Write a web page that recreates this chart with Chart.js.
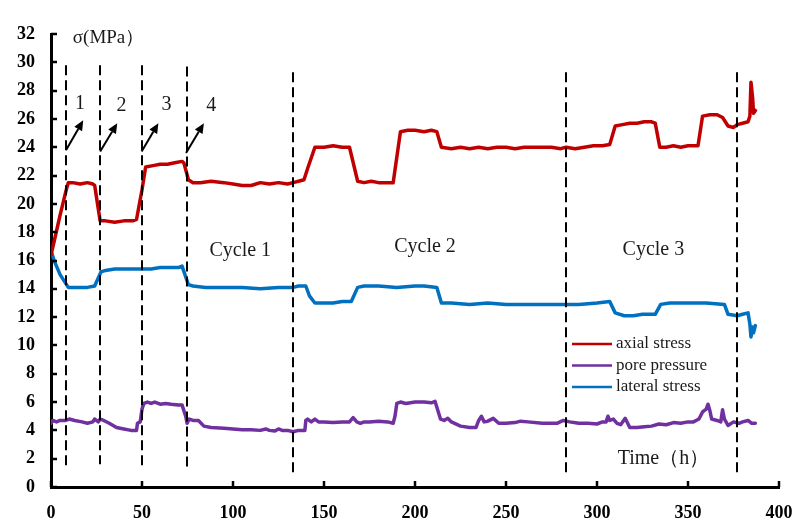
<!DOCTYPE html>
<html>
<head>
<meta charset="UTF-8">
<title>Stress vs time</title>
<script src="https://cdn.jsdelivr.net/npm/chart.js"></script>
<style>
  html, body { margin: 0; padding: 0; background: #fff; }
</style>
</head>
<body>
<canvas id="myChart" width="795" height="530"></canvas>
<script>
// axial stress (MPa) vs time (h)
var axialT = [0, 2, 5, 8, 9.5, 12, 16, 20, 23, 24, 27, 30, 35, 40, 45, 47, 50, 52, 56, 60, 64, 68, 72, 73, 75.5, 78, 82, 88, 95, 100, 105, 110, 115, 120, 125, 130, 133, 136, 139, 141, 145, 150, 155, 160, 164, 168.5, 172, 176, 180, 184, 188, 192, 196, 200, 205, 209, 212, 214.5, 220, 225, 230, 235, 240, 245, 250, 255, 260, 265, 270, 275, 280, 283, 288, 293, 298, 303, 307, 310, 314, 318, 322, 326, 330, 332, 334.5, 338, 342, 346, 350, 355.5, 358, 362, 366, 369, 372, 375, 377, 380, 383, 384, 384.6, 385.5, 386, 387];
var axialV = [16.4, 17.5, 19.2, 20.8, 21.5, 21.5, 21.4, 21.5, 21.4, 21.3, 18.8, 18.8, 18.7, 18.8, 18.8, 18.9, 21.0, 22.6, 22.7, 22.8, 22.8, 22.9, 23.0, 22.9, 21.7, 21.5, 21.5, 21.6, 21.5, 21.4, 21.3, 21.3, 21.5, 21.4, 21.5, 21.4, 21.5, 21.6, 21.7, 22.5, 24.0, 24.0, 24.1, 24.0, 24.0, 21.6, 21.5, 21.6, 21.5, 21.5, 21.5, 25.1, 25.2, 25.2, 25.1, 25.2, 25.1, 24.0, 23.9, 24.0, 23.9, 24.0, 23.9, 24.0, 24.0, 23.9, 24.0, 24.0, 24.0, 24.0, 23.9, 24.0, 23.9, 24.0, 24.1, 24.1, 24.2, 25.5, 25.6, 25.7, 25.7, 25.8, 25.8, 25.7, 24.0, 24.0, 24.1, 24.0, 24.1, 24.1, 26.2, 26.3, 26.3, 26.1, 25.5, 25.4, 25.6, 25.7, 25.8, 26.2, 28.6, 27.5, 26.4, 26.6];

// pore pressure (MPa)
var poreT = [0, 1, 3, 5, 8, 10, 13, 17, 20, 23, 24, 26, 27, 29, 32, 36, 40, 44, 47, 47.5, 49, 50, 51, 53, 55, 57, 60, 63, 66, 70, 72, 74, 74.8, 76, 78, 81, 84, 88, 95, 100, 105, 110, 115, 118, 120, 123, 125, 127, 130, 133, 136, 139.5, 140, 141, 143, 145, 147, 150, 155, 160, 164, 166, 168, 170, 172, 175, 180, 185, 188, 189, 190, 192, 195, 200, 205, 209, 211, 214, 216, 218, 220, 225, 230, 233.5, 235, 236.5, 238, 240, 243, 246, 250, 255, 258, 262, 270, 278, 281.5, 285, 290, 295, 300, 303, 305, 306, 307, 309, 311, 313, 315.5, 318, 322, 326, 330, 334, 338, 342, 346, 350, 353, 356, 358, 360, 361, 362, 363, 366, 368, 369, 370, 372, 375, 378, 380, 383, 385, 387];
var poreV = [4.5, 4.7, 4.6, 4.7, 4.7, 4.8, 4.7, 4.6, 4.5, 4.6, 4.8, 4.6, 4.8, 4.7, 4.5, 4.2, 4.1, 4.0, 4.0, 4.5, 4.6, 5.5, 5.9, 6.0, 5.9, 6.0, 5.85, 5.9, 5.85, 5.8, 5.8, 5.0, 4.5, 4.8, 4.7, 4.7, 4.3, 4.2, 4.15, 4.1, 4.05, 4.05, 4.0, 4.1, 4.0, 3.95, 4.1, 4.0, 4.0, 3.9, 4.0, 4.0, 4.7, 4.8, 4.6, 4.8, 4.6, 4.6, 4.55, 4.6, 4.6, 4.9, 4.6, 4.5, 4.6, 4.6, 4.65, 4.6, 4.5, 5.0, 5.9, 6.0, 5.9, 6.0, 6.0, 5.95, 6.05, 4.8, 4.7, 4.85, 4.6, 4.3, 4.2, 4.2, 4.7, 5.0, 4.6, 4.65, 4.85, 4.5, 4.5, 4.55, 4.65, 4.6, 4.5, 4.5, 4.7, 4.6, 4.5, 4.5, 4.45, 4.6, 4.6, 5.0, 4.7, 4.8, 4.5, 4.4, 4.85, 4.2, 4.2, 4.25, 4.3, 4.45, 4.4, 4.55, 4.5, 4.6, 4.6, 4.8, 5.3, 5.5, 5.85, 5.4, 4.8, 4.7, 4.6, 5.45, 4.8, 4.35, 4.6, 4.5, 4.6, 4.7, 4.5, 4.5];

// lateral stress (MPa)
var latT = [0, 2, 5, 8, 9.5, 15, 20, 24, 27.5, 30, 35, 40, 45, 50, 55, 60, 65, 70, 72, 75.5, 78, 85, 95, 105, 115, 125, 133, 136, 140, 142, 145, 150, 155, 160, 165, 168.5, 172, 180, 190, 200, 205, 212, 214.5, 220, 230, 240, 250, 260, 270, 283, 290, 300, 307, 310, 315, 320, 325, 332, 335, 340, 350, 360, 370, 372, 377, 380, 383, 384, 384.6, 385.5, 386, 387];
var latV = [16.7, 15.9, 15.0, 14.4, 14.1, 14.1, 14.1, 14.2, 15.2, 15.3, 15.4, 15.4, 15.4, 15.4, 15.4, 15.5, 15.5, 15.5, 15.6, 14.3, 14.2, 14.1, 14.1, 14.1, 14.0, 14.1, 14.1, 14.2, 14.2, 13.5, 13.0, 13.0, 13.0, 13.1, 13.1, 14.1, 14.2, 14.2, 14.1, 14.2, 14.2, 14.1, 13.0, 13.0, 12.9, 13.0, 12.9, 12.9, 12.9, 12.9, 12.9, 13.0, 13.1, 12.3, 12.1, 12.1, 12.2, 12.2, 12.9, 13.0, 13.0, 13.0, 12.9, 12.2, 12.1, 12.2, 12.3, 11.5, 10.6, 11.3, 10.9, 11.4];

var seriesNames = ['axial stress', 'pore pressure', 'lateral stress'];
var seriesColors = ['#C00000', '#7030A0', '#0070C0'];

var xTicks = [0, 50, 100, 150, 200, 250, 300, 350, 400];
var yTicks = [0, 2, 4, 6, 8, 10, 12, 14, 16, 18, 20, 22, 24, 26, 28, 30, 32];

// dashed stage boundaries (time, top, bottom in MPa)
var dashX = [8.5, 27, 50, 74.5, 133, 283, 377];
var dashTop = [29.8, 29.8, 29.8, 29.7, 29.3, 29.3, 29.3];
var dashBottom = [1.5, 1.6, 1.5, 1.4, 0.8, 1.0, 1.0];

// loading step arrows and their numbers
var arrowFrom = [[8.3, 23.8], [27, 23.7], [49.8, 23.7], [74.2, 23.6]];
var arrowTo = [[17.7, 25.9], [36.4, 25.7], [59, 25.7], [84, 25.7]];
var stepLabels = ['1', '2', '3', '4'];
var stepPos = [[16, 27.1], [38.8, 26.9], [63.5, 27.0], [88, 26.9]];

var cycleLabels = ['Cycle 1', 'Cycle 2', 'Cycle 3'];
var cyclePos = [[104, 16.7], [205.5, 17.0], [331, 16.75]];

function pts(t, v) {
    return t.map(function (x, i) { return { x: x, y: v[i] }; });
}

var data = {
    datasets: [
        { label: seriesNames[0], data: pts(axialT, axialV), borderColor: seriesColors[0] },
        { label: seriesNames[1], data: pts(poreT, poreV), borderColor: seriesColors[1] },
        { label: seriesNames[2], data: pts(latT, latV), borderColor: seriesColors[2] }
    ]
};

var serif = '"Liberation Serif", "Times New Roman", serif';

var annot = {
    id: 'annot',
    afterDatasetsDraw: function (chart) {
        var ctx = chart.ctx;
        var x = chart.scales.x, y = chart.scales.y;
        ctx.save();

        // dashed lines
        ctx.strokeStyle = '#000';
        ctx.lineWidth = 2;
        ctx.setLineDash([10, 5]);
        dashX.forEach(function (t, i) {
            var px = Math.round(x.getPixelForValue(t));
            ctx.beginPath();
            ctx.moveTo(px, y.getPixelForValue(dashTop[i]));
            ctx.lineTo(px, y.getPixelForValue(dashBottom[i]));
            ctx.stroke();
        });
        ctx.setLineDash([]);

        // arrows
        ctx.lineWidth = 2;
        ctx.fillStyle = '#000';
        arrowFrom.forEach(function (a, i) {
            var x0 = x.getPixelForValue(a[0]), y0 = y.getPixelForValue(a[1]);
            var x1 = x.getPixelForValue(arrowTo[i][0]), y1 = y.getPixelForValue(arrowTo[i][1]);
            var ang = Math.atan2(y1 - y0, x1 - x0);
            var hl = 10, hw = 4.5;
            var bx = x1 - hl * Math.cos(ang), by = y1 - hl * Math.sin(ang);
            ctx.beginPath();
            ctx.moveTo(x0, y0);
            ctx.lineTo(bx, by);
            ctx.stroke();
            ctx.beginPath();
            ctx.moveTo(x1, y1);
            ctx.lineTo(bx + hw * Math.sin(ang), by - hw * Math.cos(ang));
            ctx.lineTo(bx - hw * Math.sin(ang), by + hw * Math.cos(ang));
            ctx.closePath();
            ctx.fill();
        });

        // texts
        ctx.fillStyle = '#1a1a1a';
        ctx.textAlign = 'center';
        ctx.textBaseline = 'middle';
        ctx.font = '20px ' + serif;
        stepLabels.forEach(function (s, i) {
            ctx.fillText(s, x.getPixelForValue(stepPos[i][0]), y.getPixelForValue(stepPos[i][1]));
        });
        cycleLabels.forEach(function (s, i) {
            ctx.fillText(s, x.getPixelForValue(cyclePos[i][0]), y.getPixelForValue(cyclePos[i][1]));
        });
        ctx.fillText('Time（h）', x.getPixelForValue(336.5), y.getPixelForValue(2.0));
        ctx.font = '19px ' + serif;
        ctx.textAlign = 'left';
        ctx.fillText('σ(MPa）', x.getPixelForValue(12), y.getPixelForValue(31.7));

        // legend
        ctx.font = '17px ' + serif;
        chart.data.datasets.forEach(function (ds, i) {
            var ly = 344 + i * 21.5;
            ctx.strokeStyle = ds.borderColor;
            ctx.lineWidth = 2.5;
            ctx.beginPath();
            ctx.moveTo(572, ly);
            ctx.lineTo(612, ly);
            ctx.stroke();
            ctx.fillStyle = '#1a1a1a';
            ctx.fillText(ds.label, 616, ly);
        });

        // inward tick marks
        ctx.strokeStyle = '#000';
        ctx.lineWidth = 2.5;
        var left = chart.chartArea.left, bottom = chart.chartArea.bottom;
        yTicks.forEach(function (v) {
            var py = Math.round(y.getPixelForValue(v));
            ctx.beginPath();
            ctx.moveTo(left, py);
            ctx.lineTo(left + 6, py);
            ctx.stroke();
        });
        xTicks.forEach(function (t) {
            var px = Math.round(x.getPixelForValue(t));
            ctx.beginPath();
            ctx.moveTo(px, bottom);
            ctx.lineTo(px, bottom - 6);
            ctx.stroke();
        });
        ctx.restore();
    }
};

var config = {
    type: 'line',
    data: data,
    options: {
        responsive: false,
        animation: false,
        layout: { padding: { left: 0, right: 16, top: 34, bottom: 0 } },
        elements: {
            point: { radius: 0 },
            line: { borderWidth: 3.5, tension: 0, borderJoinStyle: 'round', borderCapStyle: 'round' }
        },
        plugins: {
            legend: { display: false },
            tooltip: { enabled: false }
        },
        scales: {
            x: {
                type: 'linear',
                min: 0,
                max: 400,
                afterFit: function (s) {
                    s.height = 43;
                    s.paddingLeft = 0;
                    s.paddingRight = 0;
                },
                afterBuildTicks: function (s) { s.ticks = xTicks.map(function (v) { return { value: v }; }); },
                grid: { display: false, drawTicks: false },
                border: { display: true, color: '#000', width: 3 },
                ticks: { padding: 16, color: '#000', font: { family: serif, size: 18, weight: 'bold' }, maxRotation: 0 }
            },
            y: {
                min: 0,
                max: 32,
                afterFit: function (s) {
                    s.width = 51;
                    s.paddingTop = 0;
                    s.paddingBottom = 0;
                },
                afterBuildTicks: function (s) { s.ticks = yTicks.map(function (v) { return { value: v }; }); },
                grid: { display: false, drawTicks: false },
                border: { display: true, color: '#000', width: 3 },
                ticks: { padding: 16, color: '#000', font: { family: serif, size: 18, weight: 'bold' } }
            }
        }
    },
    plugins: [annot]
};

var myChart = new Chart(document.getElementById('myChart'), config);
</script>
</body>
</html>
